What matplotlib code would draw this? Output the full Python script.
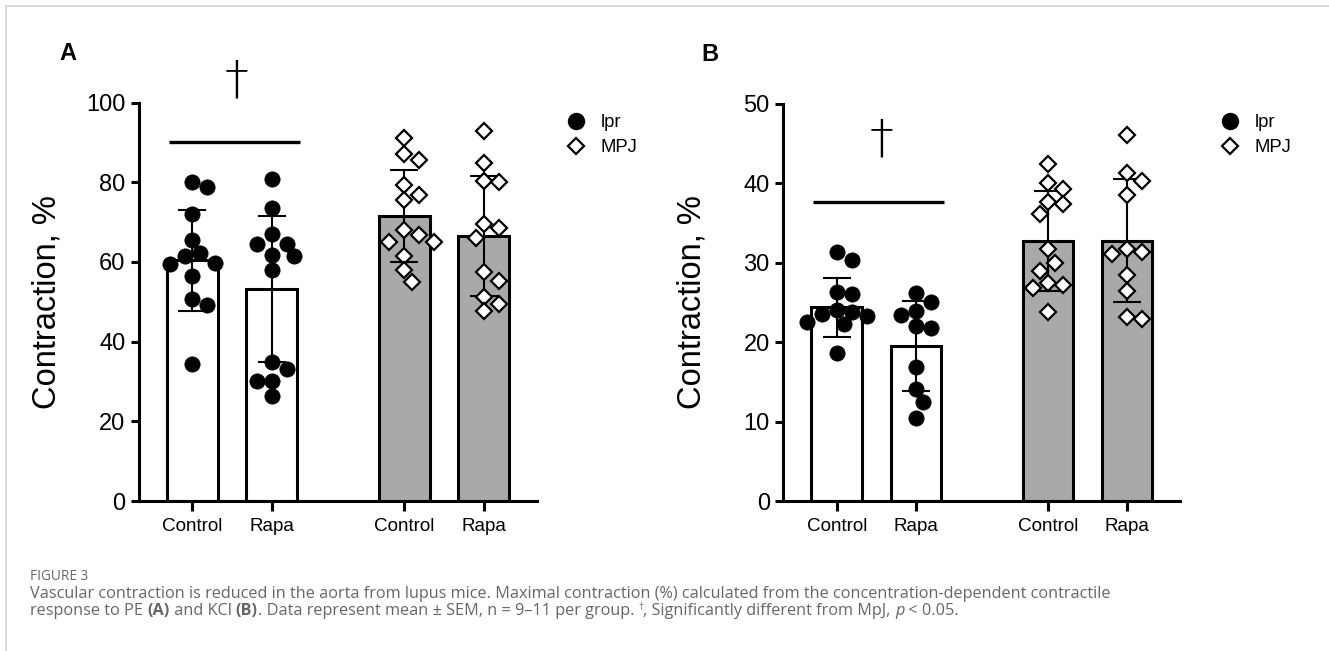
import matplotlib
matplotlib.use("Agg")
import matplotlib.pyplot as plt
from matplotlib.lines import Line2D
from matplotlib.font_manager import FontProperties

plt.rcParams['font.family'] = ['Liberation Sans', 'DejaVu Sans']

# groups on the x axis
groups = ["Control", "Rapa", "Control", "Rapa"]

# Panel A - PE
pe_lpr_ctrl = [80.0, 78.7, 71.9, 65.4, 62.3, 61.5, 59.8, 59.5, 56.4, 50.6, 49.3, 34.4]
pe_lpr_rapa = [80.9, 73.6, 67.0, 64.6, 64.4, 61.8, 61.5, 57.9, 34.8, 33.1, 30.2, 30.2, 26.4]
pe_mpj_ctrl = [91.0, 87.2, 85.5, 79.2, 76.9, 75.6, 67.9, 66.7, 65.0, 65.0, 61.6, 58.0, 54.9]
pe_mpj_rapa = [92.8, 84.7, 80.3, 80.1, 69.4, 68.5, 66.0, 57.4, 55.3, 51.3, 49.5, 47.8]
pe_means = [60.4, 53.1, 71.5, 66.5]
pe_err = [12.6, 18.3, 11.6, 15.0]

# Panel B - KCl
kcl_lpr_ctrl = [31.3, 30.4, 26.3, 26.1, 24.0, 23.8, 23.6, 23.3, 22.6, 22.3, 18.6]
kcl_lpr_rapa = [26.2, 25.1, 23.9, 23.4, 22.0, 21.8, 16.9, 14.1, 12.5, 10.4]
kcl_mpj_ctrl = [42.4, 40.0, 39.3, 37.7, 37.4, 36.1, 31.7, 30.0, 29.0, 27.4, 27.2, 26.8, 23.8]
kcl_mpj_rapa = [46.1, 41.3, 40.3, 38.5, 31.8, 31.3, 31.1, 28.5, 26.4, 23.2, 22.9]
kcl_means = [24.4, 19.5, 32.8, 32.8]
kcl_err = [3.7, 5.65, 6.3, 7.75]

W, H = 1329, 651
fig = plt.figure(figsize=(W / 100, H / 100), dpi=100)

pos = [0, 1, 2.67, 3.67]
fills = ["white", "white", "#a9a9ac", "#a9a9ac"]


def swarm(ax, x0, vals, diam):
    # simple beeswarm in pixel space
    pts = ax.transData.transform([(x0, v) for v in vals])
    placed = []
    out = []
    for px, py in sorted(pts, key=lambda p: -p[1]):
        for k in [0, 1, -1, 2, -2, 3, -3, 4, -4]:
            cx = px + k * diam * 0.5
            if all((cx - qx) ** 2 + (py - qy) ** 2 >= (0.92 * diam) ** 2 for qx, qy in placed):
                break
        placed.append((cx, py))
        out.append(ax.transData.inverted().transform((cx, py)))
    return [p[0] for p in out], [p[1] for p in out]


def panel(rect, ymax, step, series, means, errs, sig_y, dag_y):
    ax = fig.add_axes(rect)
    ax.set_xlim(-0.68, 4.34)
    ax.set_ylim(0, ymax)
    ax.bar(pos, means, width=0.64, color=fills, edgecolor="black", linewidth=2.2, zorder=1)
    ax.errorbar(pos, means, yerr=errs, fmt="none", ecolor="black", elinewidth=1.5,
                capsize=10, capthick=1.5, zorder=2)
    for i, vals in enumerate(series):
        xs, ys = swarm(ax, pos[i], vals, 15)
        if i < 2:
            ax.plot(xs, ys, "o", ms=11, mfc="black", mec="black", mew=0.5,
                    ls="none", zorder=3, clip_on=False)
        else:
            ax.plot(xs, ys, "D", ms=7.8, mfc="white", mec="black", mew=1.6,
                    ls="none", zorder=3, clip_on=False)
    ax.plot([-0.3, 1.36], [sig_y, sig_y], color="black", lw=2.4, solid_capstyle="butt")
    ax.text(0.56, dag_y, "\u2020", ha="center", va="center", fontsize=34,
            fontfamily="DejaVu Sans", fontweight="light", clip_on=False)
    for s in ["top", "right"]:
        ax.spines[s].set_visible(False)
    for s in ["left", "bottom"]:
        ax.spines[s].set_linewidth(2.2)
    ax.set_yticks(range(0, ymax + 1, step))
    ax.set_xticks(pos)
    ax.set_xticklabels(groups, fontsize=13.6)
    ax.tick_params(axis="y", length=6, width=2.2, labelsize=17, pad=3.5)
    ax.tick_params(axis="x", length=7, width=2.2, pad=5)
    ax.set_ylabel("Contraction, %", fontsize=23.5)
    ax.yaxis.set_label_coords(-0.19, 0.5)
    return ax


axA = panel([138.5 / W, 1 - 501 / H, 398.5 / W, 398.5 / H], 100, 20,
            [pe_lpr_ctrl, pe_lpr_rapa, pe_mpj_ctrl, pe_mpj_rapa], pe_means, pe_err, 90, 105.5)
axB = panel([783 / W, 1 - 501 / H, 397 / W, 397 / H], 50, 10,
            [kcl_lpr_ctrl, kcl_lpr_rapa, kcl_mpj_ctrl, kcl_mpj_rapa], kcl_means, kcl_err, 37.7, 45.5)

handles = [
    Line2D([], [], marker="o", ls="none", ms=11.5, mfc="black", mec="black", label="lpr"),
    Line2D([], [], marker="D", ls="none", ms=8.4, mfc="white", mec="black", mew=1.6, label="MPJ"),
]
for ax, lx in [(axA, 567), (axB, 1221)]:
    ax.legend(handles=handles, loc="upper left", bbox_to_anchor=(lx / W, 1 - 114 / H),
              bbox_transform=fig.transFigure, frameon=False, borderaxespad=0, borderpad=0,
              handlelength=1.0, handletextpad=0.8, labelspacing=0.45, fontsize=13.3)

fig.text(59 / W, 1 - 60 / H, "A", fontsize=17, fontweight="bold", va="baseline")
fig.text(701 / W, 1 - 61 / H, "B", fontsize=17, fontweight="bold", va="baseline")

# light frame
fig.add_artist(Line2D([6 / W, 1], [1 - 6 / H, 1 - 6 / H], color="#d6d6d6", lw=1.2))
fig.add_artist(Line2D([6 / W, 6 / W], [0, 1 - 6 / H], color="#d6d6d6", lw=1.2))

# caption
renderer = fig.canvas.get_renderer()
cap_font = "Open Sans"
cap_col = "#666666"


def text_runs(x, y, parts, size):
    for s, kw in parts:
        fs = kw.pop("fontsize", size)
        dy = kw.pop("dy", 0)
        fp = FontProperties(family=cap_font, size=fs, weight=kw.get("fontweight", "normal"),
                            style=kw.get("fontstyle", "normal"))
        fig.text(x / W, 1 - (y + dy) / H, s, fontproperties=fp, color=cap_col, va="baseline")
        w1 = renderer.get_text_width_height_descent("x" + s + "x", fp, ismath=False)[0]
        w0 = renderer.get_text_width_height_descent("xx", fp, ismath=False)[0]
        x += w1 - w0


fig.text(30 / W, 1 - 580 / H, "FIGURE 3", fontfamily=cap_font, fontsize=9.8,
         color=cap_col, va="baseline")
text_runs(30, 598, [("Vascular contraction is reduced in the aorta from lupus mice. Maximal contraction (%) "
                     "calculated from the concentration-dependent contractile", {})], 11.7)
text_runs(30, 615, [
    ("response to PE ", {}),
    ("(A)", {"fontweight": "bold"}),
    (" and KCl ", {}),
    ("(B)", {"fontweight": "bold"}),
    (". Data represent mean \u00b1 SEM, n = 9\u201311 per group. ", {}),
    ("\u2020", {"fontsize": 7, "dy": -5}),
    (", Significantly different from MpJ, ", {}),
    ("p", {"fontstyle": "italic"}),
    (" < 0.05.", {}),
], 11.7)

fig.savefig("out.png", dpi=100)
